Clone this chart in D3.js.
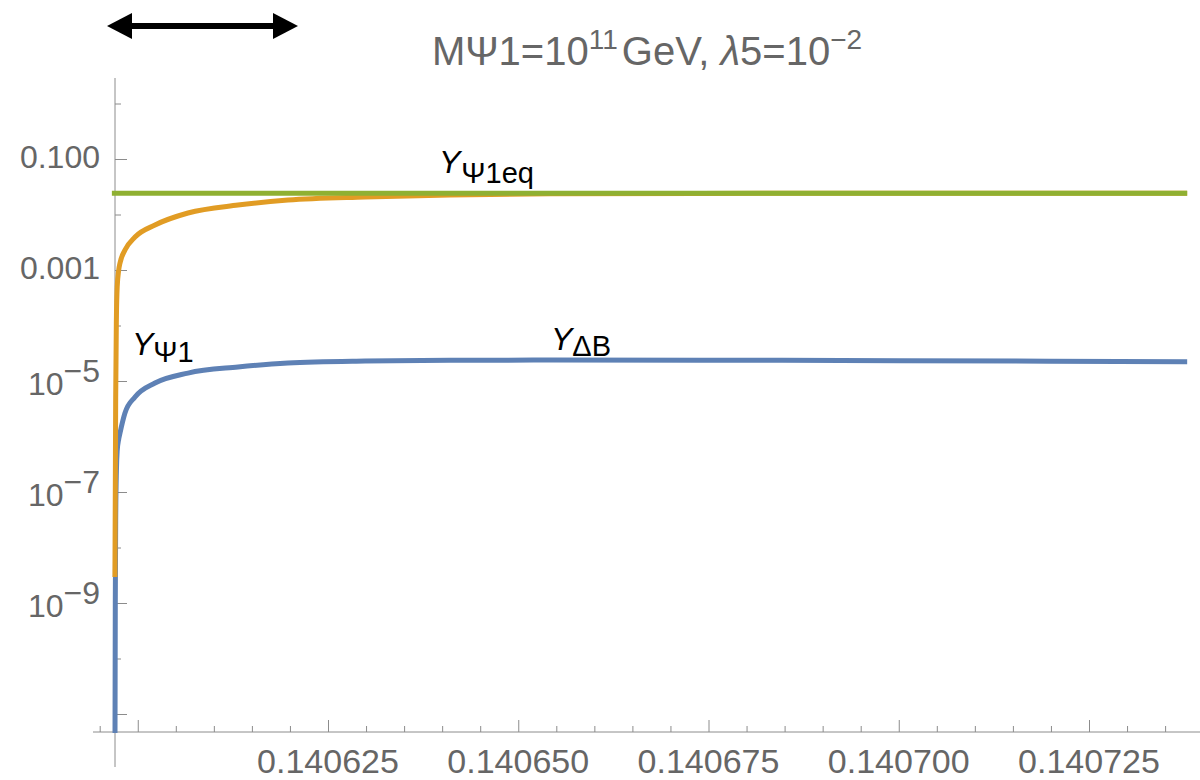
<!DOCTYPE html>
<html>
<head>
<meta charset="utf-8">
<script src="https://cdn.jsdelivr.net/npm/d3@7"></script>
<style>
  body { margin: 0; background: #fff; }
  svg { display: block; font-family: "Liberation Sans", Arial, sans-serif; }
</style>
</head>
<body>
<div id="chart"></div>
<script>
// data
var xDeltaB = [0.1405970, 0.14059705, 0.1405971, 0.1405972, 0.1405973, 0.1405975, 0.14059767, 0.14059832,
  0.14059964, 0.14060227, 0.14060660, 0.14061317, 0.14061974, 0.14062986, 0.14064103, 0.14065417,
  0.14067389, 0.14070017, 0.1407379];
var yDeltaB = [1e-12, 1e-9, 3e-8, 2.5e-7, 5.5e-7, 9e-7, 1.16e-6, 2.65e-6,
  5.15e-6, 9.2e-6, 1.39e-5, 1.79e-5, 2.11e-5, 2.29e-5, 2.36e-5, 2.38e-5,
  2.37e-5, 2.32e-5, 2.23e-5];

var xPsi1 = [0.1405970, 0.14059705, 0.1405971, 0.1405972, 0.1405973, 0.1405975, 0.14059767, 0.14059832,
  0.14059964, 0.14060227, 0.14060660, 0.14061317, 0.14061974, 0.14062986, 0.14064103, 0.14065417,
  0.14067389, 0.14070017, 0.1407379];
var yPsi1 = [2.94e-9, 1e-7, 5e-6, 1.5e-4, 5e-4, 1.0e-3, 1.34e-3, 2.29e-3,
  3.93e-3, 6.47e-3, 1.064e-2, 1.48e-2, 1.82e-2, 2.07e-2, 2.25e-2, 2.37e-2,
  2.40e-2, 2.41e-2, 2.41e-2];

var xPsi1eq = [0.1405966, 0.1407379];
var yPsi1eq = [0.0241, 0.0241];

var xMajorTicks = [0.1406, 0.140625, 0.14065, 0.140675, 0.1407, 0.140725];
var xTickLabels = ["", "0.140625", "0.140650", "0.140675", "0.140700", "0.140725"];
var xMinorTicks = [0.140595, 0.140605, 0.14061, 0.140615, 0.14062, 0.14063, 0.140635, 0.14064, 0.140645,
  0.140655, 0.14066, 0.140665, 0.14067, 0.14068, 0.140685, 0.14069, 0.140695, 0.140705, 0.14071,
  0.140715, 0.14072, 0.14073, 0.140735, 0.14074];

var yMajorTicks = [1e-1, 1e-3, 1e-5, 1e-7, 1e-9, 1e-11];
var yTickLabels = [["0.100"], ["0.001"], ["10", "\u22125"], ["10", "\u22127"], ["10", "\u22129"], [""]];
var yMinorTicks = [1, 1e-2, 1e-4, 1e-6, 1e-8, 1e-10];

var colors = { deltaB: "#5e81b5", psi1: "#e19c24", psi1eq: "#8fb032" };

var width = 1200, height = 780;
var axisX = 115, axisY = 732;

var svg = d3.select("#chart").append("svg")
    .attr("width", width)
    .attr("height", height);

var x = d3.scaleLinear().domain([0.140625, 0.140725]).range([328, 1089]);
var y = d3.scaleLog().domain([1e-1, 1e-9]).range([159, 603]);

// axes
var axisColor = "#8c8c8c";
var labelColor = "#666666";

svg.append("line")
    .attr("x1", 93).attr("x2", width)
    .attr("y1", axisY).attr("y2", axisY)
    .attr("stroke", axisColor);
svg.append("line")
    .attr("x1", axisX).attr("x2", axisX)
    .attr("y1", 78).attr("y2", 767)
    .attr("stroke", axisColor);

function styleTicks(g) {
  g.select(".domain").remove();
  g.selectAll(".tick line").attr("stroke", axisColor);
}

svg.append("g").attr("transform", "translate(0," + axisY + ")")
    .call(d3.axisTop(x).tickValues(xMajorTicks).tickSize(12).tickFormat(""))
    .call(styleTicks);
svg.append("g").attr("transform", "translate(0," + axisY + ")")
    .call(d3.axisTop(x).tickValues(xMinorTicks).tickSize(6).tickFormat(""))
    .call(styleTicks);
svg.append("g").attr("transform", "translate(" + axisX + ",0)")
    .call(d3.axisRight(y).tickValues(yMajorTicks).tickSize(12).tickFormat(""))
    .call(styleTicks);
svg.append("g").attr("transform", "translate(" + axisX + ",0)")
    .call(d3.axisRight(y).tickValues(yMinorTicks).tickSize(6).tickFormat(""))
    .call(styleTicks);

// tick labels
svg.selectAll(".xlabel")
    .data(xMajorTicks)
    .enter().append("text")
    .attr("x", function(d) { return x(d); })
    .attr("y", 773)
    .attr("text-anchor", "middle")
    .attr("font-size", 34)
    .attr("fill", labelColor)
    .text(function(d, i) { return xTickLabels[i]; });

var ylab = svg.selectAll(".ylabel")
    .data(yMajorTicks)
    .enter().append("text")
    .attr("x", 100)
    .attr("y", function(d, i) { return y(d) + (yTickLabels[i].length > 1 ? 14 : 9); })
    .attr("text-anchor", "end")
    .attr("font-size", 32)
    .attr("fill", labelColor);
ylab.append("tspan").text(function(d, i) { return yTickLabels[i][0]; });
ylab.filter(function(d, i) { return yTickLabels[i].length > 1; })
    .append("tspan")
    .attr("dy", -13)
    .text(function(d) { return yTickLabels[yMajorTicks.indexOf(d)][1]; });

// curves
svg.append("clipPath").attr("id", "plot-clip")
  .append("rect").attr("x", 90).attr("y", 70).attr("width", 1110).attr("height", 663);

var line = d3.line()
    .x(function(d) { return x(d[0]); })
    .y(function(d) { return y(d[1]); })
    .curve(d3.curveMonotoneX);

var series = [
  { xs: xDeltaB, ys: yDeltaB, color: colors.deltaB },
  { xs: xPsi1, ys: yPsi1, color: colors.psi1 },
  { xs: xPsi1eq, ys: yPsi1eq, color: colors.psi1eq }
];

svg.append("g").attr("clip-path", "url(#plot-clip)")
  .selectAll("path")
  .data(series)
  .enter().append("path")
    .attr("d", function(s) { return line(d3.zip(s.xs, s.ys)); })
    .attr("fill", "none")
    .attr("stroke", function(s) { return s.color; })
    .attr("stroke-width", 5);

// curve labels
function curveLabel(px, py, sub, subDx, subDy) {
  var t = svg.append("text")
      .attr("x", px).attr("y", py)
      .attr("fill", "#000");
  t.append("tspan").attr("font-size", 32).attr("font-style", "italic").text("Y");
  t.append("tspan").attr("font-size", 29).attr("dx", subDx).attr("dy", subDy).text(sub);
}
curveLabel(439, 173, "\u03A81eq", 1, 10);
curveLabel(551, 350, "\u0394B", 0, 6);
curveLabel(132, 355, "\u03A81", 0, 7);

// title
var title = svg.append("text")
    .attr("x", 647).attr("y", 65)
    .attr("text-anchor", "middle")
    .attr("font-size", 40)
    .attr("fill", labelColor);
title.append("tspan").text("M\u03A81=10");
title.append("tspan").attr("font-size", 28).attr("dy", -16).text("11");
title.append("tspan").attr("dy", 16).attr("dx", 4).text("GeV, ");
title.append("tspan").attr("font-style", "italic").text("\u03BB");
title.append("tspan").text("5=10");
title.append("tspan").attr("font-size", 28).attr("dy", -16).text("\u22122");

// double arrow
var arrow = svg.append("g").attr("fill", "#000");
arrow.append("line")
    .attr("x1", 125).attr("x2", 280)
    .attr("y1", 26).attr("y2", 26)
    .attr("stroke", "#000").attr("stroke-width", 6);
arrow.append("path").attr("d", "M107,26 L132,13 L132,39 Z");
arrow.append("path").attr("d", "M298,26 L273,13 L273,39 Z");
</script>
</body>
</html>
